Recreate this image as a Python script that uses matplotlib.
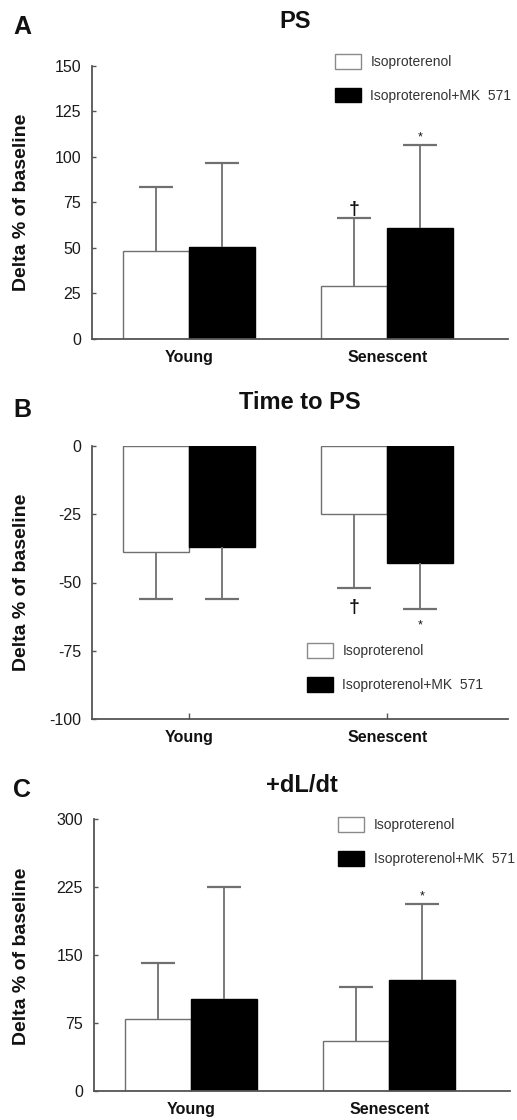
import matplotlib
matplotlib.use("Agg")
import matplotlib.pyplot as plt
from matplotlib.patches import Patch
import numpy as np

plt.rcParams['font.family'] = ['Liberation Sans', 'DejaVu Sans']
plt.rcParams['axes.unicode_minus'] = False

groups = ['Young', 'Senescent']
series_labels = ['Isoproterenol', 'Isoproterenol+MK  571']

# Panel A: PS (mean, SD)
ps_iso = [48.5, 29.3]
ps_iso_sd = [34.8, 36.9]
ps_mk = [50.7, 60.9]
ps_mk_sd = [45.7, 45.4]

# Panel B: time to PS
ttp_iso = [-38.9, -24.8]
ttp_iso_sd = [17.1, 27.3]
ttp_mk = [-36.9, -43.0]
ttp_mk_sd = [19.1, 16.8]

# Panel C: +dL/dt
dldt_iso = [79.1, 55.5]
dldt_iso_sd = [62.4, 59.2]
dldt_mk = [101.8, 122.8]
dldt_mk_sd = [122.9, 83.5]

# significance marks: (series, group, symbol)
marks_a = [(0, 1, '\u2020'), (1, 1, '*')]
marks_b = [(0, 1, '\u2020'), (1, 1, '*')]
marks_c = [(1, 1, '*')]

W, H = 517, 1120
fig = plt.figure(figsize=(W / 100, H / 100), dpi=100)

SPINE = '#555555'
ERR = '#707070'
CAP = '#2a2a2a'
BW = 0.333


def px_axes(x0, x1, ytop, ybot):
    return fig.add_axes([x0 / W, 1 - ybot / H, (x1 - x0) / W, (ybot - ytop) / H])


def panel(ax, iso, iso_sd, mk, mk_sd, ylim, yticks, down, marks):
    x = np.arange(len(groups))
    means = [iso, mk]
    sds = [iso_sd, mk_sd]
    offs = [-BW / 2, BW / 2]
    faces = ['white', 'black']
    edges = ['#707070', 'black']
    for s in range(2):
        ax.bar(x + offs[s], means[s], width=BW, color=faces[s],
               edgecolor=edges[s], linewidth=1.0, zorder=2)
        zeros = np.zeros(len(groups))
        yerr = [sds[s], zeros] if down else [zeros, sds[s]]
        eb = ax.errorbar(x + offs[s], means[s], yerr=yerr, fmt='none',
                         ecolor=ERR, elinewidth=1.3, capsize=11.9,
                         capthick=1.6, zorder=3)
        low_cap, high_cap = eb[1]
        # one-sided bars: keep only the cap at the end of the whisker
        (high_cap if down else low_cap).set_visible(False)
        (low_cap if down else high_cap).set_color(CAP)
    for s, g, sym in marks:
        end = means[s][g] - sds[s][g] if down else means[s][g] + sds[s][g]
        if sym == '*':
            fs, fw = 9, 'normal'
            off = -7 if down else 1
        else:
            fs, fw = 14, 'bold'
            off = -8 if down else 0
        ax.annotate(sym, xy=(x[g] + offs[s], end), xytext=(0, off),
                    textcoords='offset points', ha='center',
                    va='top' if down else 'bottom', fontsize=fs,
                    fontweight=fw, color='#111111', zorder=4)
    ax.set_xlim(-0.49, 1.61)
    ax.set_ylim(*ylim)
    ax.set_yticks(yticks)
    ax.set_xticks(x)
    ax.set_xticklabels(groups, fontsize=11.5, fontweight='bold', color='#111111')
    ax.tick_params(axis='y', direction='in', length=3, width=1, color=SPINE,
                   pad=8, labelsize=11.5, labelcolor='#1a1a1a')
    ax.tick_params(axis='x', direction='in', length=4, width=1, color=SPINE,
                   pad=8)
    for side in ['top', 'right']:
        ax.spines[side].set_visible(False)
    for side in ['left', 'bottom']:
        ax.spines[side].set_color(SPINE)
        ax.spines[side].set_linewidth(1.3)


def legend(ax, anchor):
    handles = [Patch(facecolor='white', edgecolor='#8a8a8a', linewidth=1.0),
               Patch(facecolor='black', edgecolor='black', linewidth=1.0)]
    leg = ax.legend(handles, series_labels, loc='upper left',
                    bbox_to_anchor=anchor, frameon=False, fontsize=10,
                    handlelength=1.85, handleheight=1.25, handletextpad=0.7,
                    labelspacing=1.35, borderpad=0, borderaxespad=0)
    for t in leg.get_texts():
        t.set_color('#333333')


axA = px_axes(92, 508, 65.7, 339)
panel(axA, ps_iso, ps_iso_sd, ps_mk, ps_mk_sd, (0, 150),
      [0, 25, 50, 75, 100, 125, 150], False, marks_a)
legend(axA, (0.584, 1.043))

axB = px_axes(92, 508, 446, 719)
panel(axB, ttp_iso, ttp_iso_sd, ttp_mk, ttp_mk_sd, (-100, 0),
      [-100, -75, -50, -25, 0], True, marks_b)
legend(axB, (0.517, 0.278))

axC = px_axes(94, 510, 819, 1091)
panel(axC, dldt_iso, dldt_iso_sd, dldt_mk, dldt_mk_sd, (0, 300),
      [0, 75, 150, 225, 300], False, marks_c)
legend(axC, (0.587, 1.007))

# titles, panel letters and y labels
titles = [('PS', 295, 21), ('Time to PS', 300, 402), ('+dL/dt', 302, 785)]
for txt, x, y in titles:
    fig.text(x / W, 1 - y / H, txt, ha='center', va='center', fontsize=17,
             fontweight='bold', color='#111111')

letters = [('A', 22, 27), ('B', 22, 410), ('C', 22, 790)]
for txt, x, y in letters:
    fig.text(x / W, 1 - y / H, txt, ha='center', va='center', fontsize=18,
             fontweight='bold', color='#111111')

for y in [202, 582, 956]:
    fig.text(22 / W, 1 - y / H, 'Delta % of baseline', ha='center',
             va='center', rotation=90, fontsize=14, fontweight='bold',
             color='#111111')

fig.savefig('out.png', dpi=100)
